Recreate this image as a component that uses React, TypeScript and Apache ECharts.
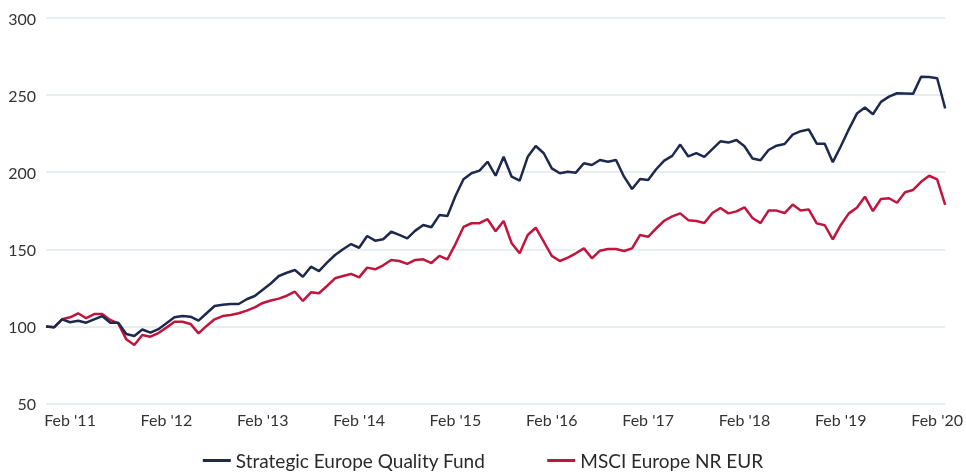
import React, { useEffect, useRef } from "react";
import * as echarts from "echarts";

// Month-end observations from Oct 2010 to Feb 2020
const startYear = 2010;
const startMonth = 9; // 0-based: October
const seriesNames = ["Strategic Europe Quality Fund", "MSCI Europe NR EUR"];

const fundValues = [
  100, 99.4, 104.6, 102.7, 103.7, 102.4, 104.6, 106.7, 102.4, 102.4,
  95.1, 93.8, 98, 96, 98.2, 102, 105.9, 106.7, 106.3, 103.7,
  108.5, 113.2, 114.1, 114.5, 114.5, 117.6, 119.7, 123.8, 127.8, 132.7,
  134.8, 136.6, 132.2, 138.7, 135.9, 141.3, 146.3, 150, 153.4, 151,
  158.6, 155.6, 156.5, 161.4, 159.3, 157.1, 162.1, 165.8, 164.3, 172.2,
  171.6, 184.6, 195.4, 199.3, 201, 206.8, 197.7, 210, 197.1, 194.5,
  210, 217, 212.3, 202.5, 199.3, 200.3, 199.7, 205.8, 204.7, 207.9,
  206.8, 207.9, 197.1, 189.1, 195.6, 195, 201.9, 207.5, 210.6, 217.9,
  210.2, 212.4, 210, 215, 220, 219.2, 220.9, 216.8, 208.9, 207.8,
  214.4, 217.2, 218.3, 224.4, 226.6, 227.7, 218.5, 218.5, 206.5, 216.8,
  227.8, 238, 242, 237.6, 245.6, 249, 251.2, 251.1, 250.8, 261.9,
  261.7, 260.9, 241.4,
];

const indexValues = [
  100, 99.4, 104.6, 105.9, 108.5, 105.3, 108, 108, 104.2, 102,
  91.6, 87.9, 94.4, 93.3, 95.7, 99.2, 103, 103, 101.6, 95.5,
  100.3, 104.6, 106.7, 107.4, 108.5, 110.2, 112.4, 115.2, 116.8, 118,
  119.9, 122.5, 116.5, 122.1, 121.5, 126.2, 131.2, 132.7, 134, 131.8,
  138.1, 137, 139.6, 143.1, 142.4, 140.5, 143.1, 143.5, 141.1, 145.7,
  143.5, 153.4, 164.5, 166.9, 166.9, 169.5, 161.7, 168.4, 153.9, 147.4,
  159.3, 164, 154.9, 145.7, 142.4, 144.6, 147.4, 150.6, 144.2, 149.1,
  150.2, 150.2, 148.9, 150.6, 159.3, 158.1, 163.5, 168.5, 171.3, 173.3,
  168.9, 168.3, 167, 173.5, 176.8, 173.3, 174.6, 177.2, 170.3, 167,
  175.1, 175.1, 173.5, 179, 175.1, 175.9, 166.8, 165.6, 156.4, 165.8,
  173.3, 177, 184.1, 174.8, 182.6, 183.1, 180.2, 187, 188.5, 193.8,
  197.7, 195.4, 178.8,
];

const yTicks = { min: 50, max: 300, interval: 50 };

// category = month-end date "YYYY-MM"
const months: string[] = fundValues.map((_, i) => {
  const m = startMonth + i;
  const y = startYear + Math.floor(m / 12);
  const mm = (m % 12) + 1;
  return `${y}-${mm < 10 ? "0" + mm : mm}`;
});

const colors = ["#1d2a4e", "#c0163d"];

export default function App() {
  const ref = useRef<HTMLDivElement>(null);
  useEffect(() => {
    if (!ref.current) return;
    const chart = echarts.init(ref.current, undefined, { renderer: "svg" });
    const font = "Lato, 'Noto Sans', sans-serif";
    chart.setOption({
      animation: false,
      color: colors,
      grid: { left: 46, right: 19, top: 18, bottom: 69.5, containLabel: false },
      legend: {
        top: 446,
        left: "center",
        icon: "rect",
        itemWidth: 28,
        itemHeight: 3,
        itemGap: 62,
        textStyle: { fontFamily: font, fontSize: 19, color: "#2a2a2a" },
        data: seriesNames,
      },
      xAxis: {
        type: "category",
        boundaryGap: false,
        data: months,
        axisLine: { show: false },
        axisTick: { show: false },
        splitLine: { show: false },
        axisLabel: {
          interval: (_idx: number, val: string) => val.endsWith("-01"),
          formatter: (val: string) => {
            const y = parseInt(val.slice(0, 4), 10);
            return `Feb '${String(y % 100).padStart(2, "0")}`;
          },
          margin: 8,
          fontFamily: font,
          fontSize: 16,
          color: "#333",
        },
      },
      yAxis: {
        type: "value",
        min: yTicks.min,
        max: yTicks.max,
        interval: yTicks.interval,
        axisLine: { show: false },
        axisTick: { show: false },
        axisLabel: { margin: 10, fontFamily: font, fontSize: 16, color: "#333" },
        splitLine: { lineStyle: { color: "#e7eef2", width: 2 } },
      },
      series: [
        {
          name: seriesNames[0],
          type: "line",
          data: fundValues,
          showSymbol: false,
          lineStyle: { width: 2.5, color: colors[0] },
          z: 3,
        },
        {
          name: seriesNames[1],
          type: "line",
          data: indexValues,
          showSymbol: false,
          lineStyle: { width: 2.5, color: colors[1] },
          z: 2,
        },
      ],
    });
    return () => chart.dispose();
  }, []);
  return (
    <div
      ref={ref}
      style={{ position: "fixed", left: 0, top: 0, width: 966, height: 473 }}
    />
  );
}
